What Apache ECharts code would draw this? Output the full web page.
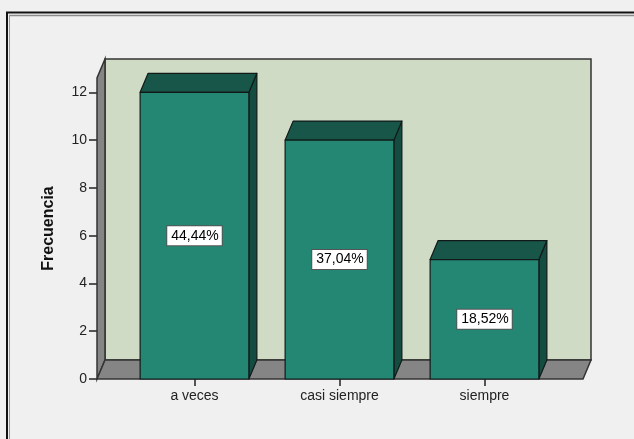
<!DOCTYPE html>
<html>
<head>
<meta charset="utf-8">
<script src="https://cdn.jsdelivr.net/npm/echarts@6/dist/echarts.min.js"></script>
<style>
  html, body { margin: 0; padding: 0; background: #f0f0f0; }
  #chart { width: 634px; height: 439px; }
</style>
</head>
<body>
<div id="chart"></div>
<script>
// Frequency counts per answer category
const categories = ['a veces', 'casi siempre', 'siempre'];
const frequencies = [12, 10, 5];
const percentLabels = ['44,44%', '37,04%', '18,52%'];
const yTicks = [0, 2, 4, 6, 8, 10, 12];
const yMax = 12.6;

// 3D look: depth offset of the back plane, in pixels
const DEPTH_X = 8;
const DEPTH_Y = -19;
// the floor extends past the category band on each side
const FLOOR_PAD_L = 25;
const FLOOR_PAD_R = 26;

const FONT = '"Liberation Sans", Arial, sans-serif';
const EDGE = '#333333';

// Back wall, left wall and floor of the 3D box
function renderRoom(params, api) {
  const cs = params.coordSys;
  const y0 = api.coord([0, 0])[1];
  const yT = api.coord([0, yMax])[1];
  const xl = cs.x - FLOOR_PAD_L;
  const xr = cs.x + cs.width + FLOOR_PAD_R;
  const dx = DEPTH_X, dy = DEPTH_Y;
  return {
    type: 'group',
    children: [
      {
        type: 'polygon',
        shape: { points: [[xl + dx, yT + dy], [xr + dx, yT + dy], [xr + dx, y0 + dy], [xl + dx, y0 + dy]] },
        style: { fill: '#cfdbc5', stroke: EDGE, lineWidth: 1.5 }
      },
      {
        type: 'polygon',
        shape: { points: [[xl, y0], [xl, yT], [xl + dx, yT + dy], [xl + dx, y0 + dy]] },
        style: { fill: '#858585', stroke: EDGE, lineWidth: 1.5 }
      },
      {
        type: 'polygon',
        shape: { points: [[xl, y0], [xr, y0], [xr + dx, y0 + dy], [xl + dx, y0 + dy]] },
        style: { fill: '#858585', stroke: EDGE, lineWidth: 1.5 }
      }
    ]
  };
}

// Prism-shaped bar with a boxed percentage label
function renderBar(params, api) {
  const i = api.value(0);
  const v = api.value(1);
  const top = api.coord([i, v]);
  const base = api.coord([i, 0]);
  const w = api.size([1, 0])[0] * 0.75;
  const x0 = top[0] - w / 2;
  const x1 = top[0] + w / 2;
  const yt = top[1];
  const yb = base[1];
  const dx = DEPTH_X, dy = DEPTH_Y;
  const line = { stroke: '#111a18', lineWidth: 1.2, lineJoin: 'round' };
  return {
    type: 'group',
    children: [
      {
        type: 'polygon',
        shape: { points: [[x1, yt], [x1 + dx, yt + dy], [x1 + dx, yb + dy], [x1, yb]] },
        style: Object.assign({ fill: '#154c41' }, line)
      },
      {
        type: 'polygon',
        shape: { points: [[x0, yt], [x0 + dx, yt + dy], [x1 + dx, yt + dy], [x1, yt]] },
        style: Object.assign({ fill: '#19564a' }, line)
      },
      {
        type: 'rect',
        shape: { x: x0, y: yt, width: w, height: yb - yt },
        style: Object.assign({ fill: '#238774' }, line)
      },
      {
        type: 'text',
        x: top[0],
        y: (yt + yb) / 2,
        style: {
          text: percentLabels[params.dataIndex],
          font: '14px ' + FONT,
          fill: '#000',
          align: 'center',
          verticalAlign: 'middle',
          backgroundColor: '#ffffff',
          borderColor: '#555555',
          borderWidth: 1,
          padding: [3, 3, 2, 4]
        }
      }
    ]
  };
}

const chart = echarts.init(document.getElementById('chart'), null, { renderer: 'canvas' });

chart.setOption({
  backgroundColor: '#f0f0f0',
  animation: false,
  grid: { left: 122, right: 77, top: 78, bottom: 60, containLabel: false },
  xAxis: {
    type: 'category',
    data: categories,
    axisLine: { show: false },
    axisTick: { show: true, alignWithLabel: true, length: 7, lineStyle: { color: '#222', width: 1.5 } },
    axisLabel: { color: '#222', fontSize: 14, fontFamily: FONT, margin: 10 },
    splitLine: { show: false }
  },
  yAxis: {
    type: 'value',
    min: 0,
    max: yMax,
    offset: 25,
    name: 'Frecuencia',
    nameLocation: 'middle',
    nameGap: 40,
    nameTextStyle: { color: '#111', fontSize: 16, fontWeight: 'bold', fontFamily: FONT },
    axisLine: { show: false },
    axisTick: { show: true, customValues: yTicks, length: 8, lineStyle: { color: '#222', width: 1.5 } },
    axisLabel: { customValues: yTicks, color: '#222', fontSize: 14, fontFamily: FONT, margin: 10 },
    splitLine: { show: false }
  },
  graphic: [
    { type: 'line', shape: { x1: 6, y1: 12.5, x2: 634, y2: 12.5 }, style: { stroke: '#111', lineWidth: 2 } },
    { type: 'line', shape: { x1: 9, y1: 15.5, x2: 634, y2: 15.5 }, style: { stroke: '#8a8a8a', lineWidth: 1.5 } },
    { type: 'line', shape: { x1: 7, y1: 12, x2: 7, y2: 439 }, style: { stroke: '#111', lineWidth: 2 } },
    { type: 'line', shape: { x1: 9.5, y1: 15, x2: 9.5, y2: 439 }, style: { stroke: '#9a9a9a', lineWidth: 1 } }
  ],
  series: [
    {
      type: 'custom',
      z: 1,
      silent: true,
      renderItem: renderRoom,
      data: [[0, 0]]
    },
    {
      type: 'custom',
      z: 2,
      renderItem: renderBar,
      encode: { x: 0, y: 1 },
      data: frequencies.map((f, i) => [i, f])
    }
  ]
});
</script>
</body>
</html>
